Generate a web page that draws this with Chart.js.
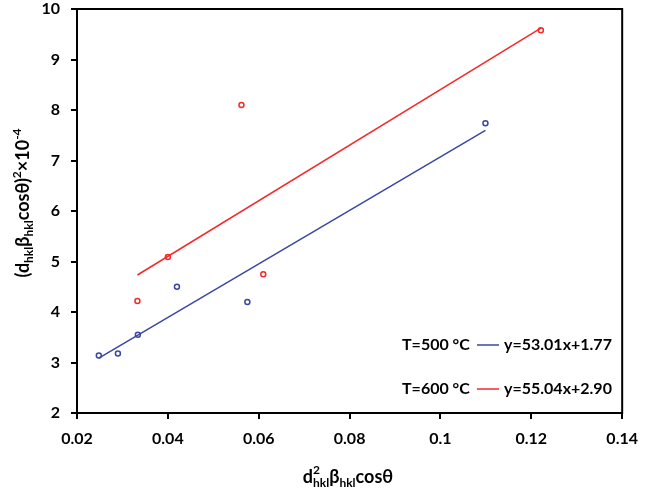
<!DOCTYPE html>
<html>
<head>
<meta charset="utf-8">
<script src="https://cdn.jsdelivr.net/npm/chart.js@4"></script>
<style>
  html, body { margin: 0; padding: 0; background: #fff; }
  #wrap { width: 648px; height: 496px; }
</style>
</head>
<body>
<div id="wrap"><canvas id="grafico"></canvas></div>
<script>
// measured points, T = 500 °C
const x500 = [0.0248, 0.0290, 0.0334, 0.0420, 0.0575, 0.1099];
const y500 = [3.14, 3.18, 3.55, 4.50, 4.20, 7.74];
// measured points, T = 600 °C
const x600 = [0.0333, 0.0400, 0.0562, 0.0610, 0.1221];
const y600 = [4.22, 5.09, 8.10, 4.75, 9.58];

// linear fits (slope, intercept)
const fit500 = [53.01, 1.77];
const fit600 = [55.04, 2.90];
const tempLabels = ['T=500 °C', 'T=600 °C'];

const xTicks = [0.02, 0.04, 0.06, 0.08, 0.1, 0.12, 0.14];
const yTicks = [2, 3, 4, 5, 6, 7, 8, 9, 10];

const BLUE = '#3a47a5';
const RED = '#f42a2a';
const FONT = 'Lato, "Open Sans", sans-serif';

const pts = (xs, ys) => xs.map((x, i) => ({ x: x, y: ys[i] }));
const fitLine = (xs, f) => {
  const lo = Math.min(...xs), hi = Math.max(...xs);
  return [{ x: lo, y: f[0] * lo + f[1] }, { x: hi, y: f[0] * hi + f[1] }];
};
const eqText = f => 'y=' + f[0].toFixed(2) + 'x+' + f[1].toFixed(2);

// draws a row of text pieces, some of them raised or lowered
function drawRuns(ctx, runs, x, y, align) {
  let total = 0;
  runs.forEach(r => {
    ctx.font = 'bold ' + r.size + 'px ' + FONT;
    r.w = ctx.measureText(r.t).width;
    if (!r.stack) total += r.w;
  });
  let cx = align === 'center' ? x - total / 2 : x;
  ctx.textAlign = 'left';
  ctx.textBaseline = 'alphabetic';
  runs.forEach(r => {
    ctx.font = 'bold ' + r.size + 'px ' + FONT;
    ctx.fillText(r.t, cx, y + (r.dy || 0));
    if (!r.stack) cx += r.w;
  });
}

const decorations = {
  id: 'decorations',
  afterDraw(chart) {
    const ctx = chart.ctx;
    const a = chart.chartArea;
    ctx.save();
    ctx.strokeStyle = '#000';
    ctx.lineWidth = 2;
    ctx.strokeRect(a.left, a.top, a.right - a.left, a.bottom - a.top);
    ctx.fillStyle = '#000';

    // x axis title
    drawRuns(ctx, [
      { t: 'd', size: 18 },
      { t: '2', size: 12, dy: -9, stack: true },
      { t: 'hkl', size: 12, dy: 4 },
      { t: 'β', size: 18 },
      { t: 'hkl', size: 12, dy: 4 },
      { t: 'cosθ', size: 18 }
    ], 348, 483, 'center');

    // y axis title
    ctx.save();
    ctx.translate(29, 203);
    ctx.rotate(-Math.PI / 2);
    drawRuns(ctx, [
      { t: '(d', size: 18 },
      { t: 'hkl', size: 12, dy: 4 },
      { t: 'β', size: 18 },
      { t: 'hkl', size: 12, dy: 4 },
      { t: 'cosθ)', size: 18 },
      { t: '2', size: 12, dy: -8 },
      { t: '×10', size: 18 },
      { t: '-4', size: 12, dy: -8 }
    ], 0, 0, 'center');
    ctx.restore();

    // legend with fit equations
    const rows = [[tempLabels[0], BLUE, fit500, 345], [tempLabels[1], RED, fit600, 389]];
    ctx.font = 'bold 16px ' + FONT;
    ctx.textBaseline = 'middle';
    rows.forEach(r => {
      ctx.textAlign = 'left';
      ctx.fillStyle = '#000';
      ctx.fillText(r[0], 402, r[3]);
      ctx.strokeStyle = r[1];
      ctx.lineWidth = 1.5;
      ctx.beginPath();
      ctx.moveTo(477, r[3]);
      ctx.lineTo(499, r[3]);
      ctx.stroke();
      ctx.fillText(eqText(r[2]), 504, r[3]);
    });
    ctx.restore();
  }
};

const axisStyle = {
  grid: { display: true, drawOnChartArea: false, drawTicks: true, tickLength: 6, color: '#000', lineWidth: 2 },
  border: { display: true, color: '#000', width: 2 }
};

new Chart(document.getElementById('grafico'), {
  type: 'scatter',
  data: {
    datasets: [
      {
        label: 'fit 500',
        data: fitLine(x500, fit500),
        showLine: true,
        borderColor: BLUE,
        borderWidth: 1.5,
        pointRadius: 0
      },
      {
        label: 'fit 600',
        data: fitLine(x600, fit600),
        showLine: true,
        borderColor: RED,
        borderWidth: 1.5,
        pointRadius: 0
      },
      {
        label: tempLabels[0],
        data: pts(x500, y500),
        borderColor: BLUE,
        backgroundColor: '#fff',
        borderWidth: 1.5,
        pointRadius: 2.5
      },
      {
        label: tempLabels[1],
        data: pts(x600, y600),
        borderColor: RED,
        backgroundColor: '#fff',
        borderWidth: 1.5,
        pointRadius: 2.5
      }
    ]
  },
  options: {
    responsive: true,
    maintainAspectRatio: false,
    animation: false,
    layout: { padding: { top: 0, right: 17, left: 0, bottom: 0 } },
    plugins: { legend: { display: false }, tooltip: { enabled: false } },
    scales: {
      x: {
        type: 'linear',
        min: xTicks[0],
        max: xTicks[xTicks.length - 1],
        afterFit: s => { s.height = 83; },
        afterBuildTicks: s => { s.ticks = xTicks.map(v => ({ value: v })); },
        ticks: {
          padding: 10,
          color: '#000',
          font: { family: FONT, size: 16, weight: 'bold' },
          callback: v => String(+v.toFixed(2))
        },
        ...axisStyle
      },
      y: {
        min: yTicks[0],
        max: yTicks[yTicks.length - 1],
        afterFit: s => { s.width = 77; s.paddingTop = 9; s.paddingBottom = 0; },
        afterBuildTicks: s => { s.ticks = yTicks.map(v => ({ value: v })); },
        ticks: {
          padding: 11,
          color: '#000',
          font: { family: FONT, size: 16, weight: 'bold' }
        },
        ...axisStyle
      }
    }
  },
  plugins: [decorations]
});
</script>
</body>
</html>
